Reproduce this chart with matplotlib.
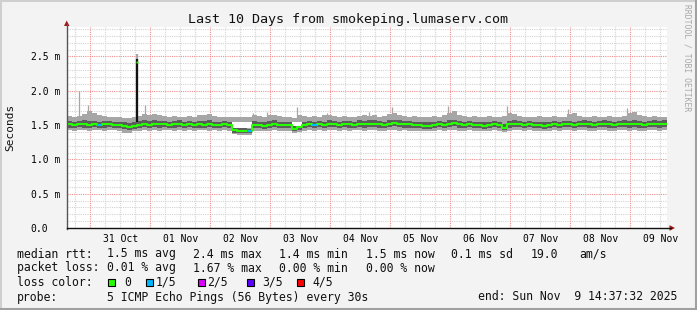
import numpy as np
import matplotlib
matplotlib.use("Agg")
import matplotlib.pyplot as plt
import matplotlib.dates as mdates
from matplotlib.lines import Line2D
from matplotlib.patches import Polygon, Rectangle
from datetime import datetime, timedelta

# ---------------- data ----------------
start = datetime(2025, 10, 30, 14, 37, 32)
end = datetime(2025, 11, 9, 14, 37, 32)
step_hours = 2

median = [1.51,1.50,1.51,1.51,1.50,1.51,1.50,1.51,1.51,1.50,
          1.50,1.48,1.47,1.49,1.50,1.51,1.50,1.52,1.51,1.51,
          1.50,1.51,1.52,1.50,1.51,1.50,1.51,1.50,1.51,1.50,
          1.50,1.51,1.50,1.43,1.42,1.42,1.41,1.50,1.50,1.49,
          1.50,1.51,1.50,1.50,1.50,1.45,1.47,1.50,1.51,1.50,
          1.51,1.50,1.51,1.51,1.50,1.51,1.51,1.50,1.52,1.51,
          1.52,1.52,1.51,1.50,1.52,1.53,1.52,1.51,1.51,1.50,
          1.50,1.49,1.49,1.50,1.51,1.50,1.52,1.53,1.51,1.50,
          1.51,1.50,1.50,1.49,1.50,1.51,1.50,1.46,1.51,1.52,
          1.51,1.50,1.51,1.50,1.50,1.49,1.50,1.51,1.50,1.51,
          1.51,1.50,1.51,1.52,1.51,1.50,1.51,1.52,1.51,1.50,
          1.51,1.52,1.51,1.52,1.51,1.50,1.51,1.52,1.51,1.52]

smoke_hi = [1.63,1.62,1.63,1.66,1.70,1.68,1.64,1.63,1.62,1.62,
            1.62,1.61,1.60,1.62,1.63,1.66,1.65,1.66,1.64,1.63,
            1.62,1.63,1.62,1.62,1.63,1.62,1.64,1.65,1.66,1.63,
            1.62,1.62,1.62,1.62,1.62,1.62,1.62,1.64,1.63,1.62,
            1.64,1.65,1.63,1.62,1.62,1.61,1.64,1.63,1.62,1.63,
            1.62,1.64,1.65,1.63,1.62,1.63,1.62,1.62,1.63,1.64,
            1.63,1.64,1.62,1.63,1.66,1.68,1.64,1.63,1.62,1.63,
            1.62,1.62,1.62,1.63,1.62,1.64,1.68,1.70,1.64,1.63,
            1.62,1.63,1.62,1.62,1.63,1.62,1.62,1.63,1.68,1.66,
            1.63,1.62,1.62,1.62,1.63,1.62,1.62,1.63,1.62,1.62,
            1.66,1.67,1.63,1.62,1.62,1.63,1.62,1.62,1.63,1.62,
            1.62,1.63,1.67,1.69,1.64,1.63,1.62,1.63,1.62,1.62]

smoke_lo = [1.43,1.42,1.43,1.43,1.42,1.43,1.43,1.42,1.43,1.43,
            1.42,1.39,1.38,1.41,1.42,1.43,1.42,1.43,1.42,1.43,
            1.43,1.42,1.43,1.42,1.43,1.42,1.43,1.43,1.42,1.43,
            1.42,1.43,1.42,1.37,1.36,1.36,1.36,1.42,1.42,1.41,
            1.42,1.43,1.42,1.42,1.42,1.39,1.40,1.42,1.43,1.42,
            1.43,1.42,1.43,1.43,1.42,1.43,1.42,1.43,1.43,1.42,
            1.43,1.43,1.42,1.42,1.43,1.43,1.42,1.43,1.42,1.42,
            1.42,1.41,1.41,1.42,1.43,1.42,1.43,1.43,1.42,1.42,
            1.43,1.42,1.42,1.41,1.42,1.43,1.42,1.40,1.42,1.43,
            1.43,1.42,1.43,1.42,1.42,1.41,1.42,1.43,1.42,1.43,
            1.43,1.42,1.43,1.43,1.42,1.42,1.43,1.43,1.42,1.42,
            1.43,1.43,1.42,1.43,1.42,1.42,1.43,1.43,1.42,1.43]

smoke_dark_lo = [1.46,1.46,1.47,1.46,1.46,1.47,1.46,1.46,1.47,1.46,
                 1.46,1.44,1.43,1.45,1.46,1.47,1.46,1.47,1.46,1.47,
                 1.46,1.46,1.47,1.46,1.47,1.46,1.46,1.46,1.47,1.46,
                 1.46,1.47,1.46,1.39,1.39,1.39,1.38,1.46,1.46,1.45,
                 1.46,1.47,1.46,1.46,1.46,1.42,1.43,1.46,1.47,1.46,
                 1.47,1.46,1.47,1.47,1.46,1.47,1.46,1.46,1.47,1.46,
                 1.47,1.47,1.46,1.46,1.47,1.48,1.47,1.46,1.46,1.46,
                 1.46,1.45,1.45,1.46,1.47,1.46,1.47,1.48,1.46,1.46,
                 1.47,1.46,1.46,1.45,1.46,1.47,1.46,1.43,1.46,1.47,
                 1.47,1.46,1.47,1.46,1.46,1.45,1.46,1.47,1.46,1.47,
                 1.47,1.46,1.47,1.47,1.46,1.46,1.47,1.47,1.46,1.46,
                 1.47,1.47,1.46,1.47,1.46,1.46,1.47,1.47,1.46,1.47]

smoke_dark_hi = [1.56,1.55,1.56,1.57,1.56,1.56,1.55,1.56,1.56,1.55,
                 1.55,1.54,1.53,1.55,1.56,1.57,1.56,1.57,1.56,1.56,
                 1.55,1.56,1.57,1.55,1.56,1.55,1.56,1.56,1.57,1.55,
                 1.55,1.56,1.55,1.46,1.46,1.46,1.45,1.56,1.55,1.54,
                 1.56,1.57,1.55,1.55,1.55,1.50,1.51,1.55,1.56,1.55,
                 1.56,1.55,1.57,1.56,1.55,1.56,1.56,1.55,1.57,1.56,
                 1.57,1.57,1.56,1.55,1.57,1.58,1.57,1.56,1.56,1.55,
                 1.55,1.54,1.54,1.55,1.56,1.55,1.57,1.58,1.56,1.55,
                 1.56,1.55,1.55,1.54,1.55,1.56,1.55,1.51,1.56,1.57,
                 1.56,1.55,1.56,1.55,1.55,1.54,1.55,1.56,1.55,1.56,
                 1.56,1.55,1.56,1.57,1.56,1.55,1.56,1.57,1.56,1.55,
                 1.56,1.57,1.56,1.57,1.56,1.55,1.56,1.57,1.56,1.57]

loss = [0] * 120
loss_idx_one = [6, 36, 49]          # samples with 1/5 loss
for _i in loss_idx_one:
    loss[_i] = 1

# white gaps inside the smoke: (first sample, last sample + 1, low, high)
gap_segments = [(33, 37, 1.46, 1.55), (45, 47, 1.48, 1.55)]

# thin isolated outlier spikes: hours after start, top value (ms)
spike_hours = [4.8, 8.4, 31.2, 74.3, 79.9, 92.0, 103.9, 120.8, 129.9, 152.4, 176.0, 200.4, 224.0]
spike_tops = [2.00, 1.79, 1.80, 1.67, 1.69, 1.77, 1.67, 1.69, 1.77, 1.78, 1.78, 1.73, 1.75]

# the big spike
big_hour = 27.9
big_gray_top = 2.54
big_black_top = 2.47
big_median = 2.42
big_base = 1.55

ytick_vals = [0.0, 0.5, 1.0, 1.5, 2.0, 2.5]
ytick_labels = ["0.0", "0.5 m", "1.0 m", "1.5 m", "2.0 m", "2.5 m"]
day_labels = ["31 Oct", "01 Nov", "02 Nov", "03 Nov", "04 Nov",
              "05 Nov", "06 Nov", "07 Nov", "08 Nov", "09 Nov"]

loss_names = ["0", "1/5", "2/5", "3/5", "4/5"]
loss_colors = ["#26ff00", "#00b8ff", "#dd00ff", "#5e00ff", "#ff0000"]

# ---------------- figure ----------------
W, H = 697, 310
fig = plt.figure(figsize=(W / 100, H / 100), dpi=100, facecolor="#f3f3f3")
mono = "DejaVu Sans Mono"

def fx(x):
    return x / W

def fy(y):
    return 1 - y / H

# frame
fig.add_artist(Rectangle((0, 0), 1, 1, transform=fig.transFigure, fill=False,
                         edgecolor="#cfcfcf", lw=2.2))
fig.add_artist(Line2D([fx(1), fx(696)], [fy(309), fy(309)], transform=fig.transFigure,
                      color="#a0a0a0", lw=1.5))
fig.add_artist(Line2D([fx(696), fx(696)], [fy(1), fy(309)], transform=fig.transFigure,
                      color="#a0a0a0", lw=1.5))

PL, PR, PT, PB = 67, 667, 27, 228
ax = fig.add_axes([fx(PL), fy(PB), (PR - PL) / W, (PB - PT) / H])
ax.set_facecolor("white")
for s in ax.spines.values():
    s.set_visible(False)

t0 = mdates.date2num(start)
t1 = mdates.date2num(end)
n = len(median)
edges = np.array([mdates.date2num(start + timedelta(hours=step_hours * i)) for i in range(n + 1)])

def ext(a):
    a = np.asarray(a, dtype=float)
    return np.append(a, a[-1])

ax.set_xlim(t0, t1)
ax.set_ylim(0, 2.93)

# grid
minor_y = np.arange(0.1, 2.95, 0.1)
for v in minor_y:
    if abs(v / 0.5 - round(v / 0.5)) > 1e-6:
        ax.axhline(v, color="#d4d4d4", lw=0.8, ls=(0, (1, 1)), zorder=0)
for v in ytick_vals[1:]:
    ax.axhline(v, color="#f09090", lw=0.8, ls=(0, (1, 1)), zorder=0.5)

six_h = mdates.HourLocator(byhour=[0, 6, 12, 18]).tick_values(start, end)
for v in six_h:
    if t0 < v < t1:
        if abs((mdates.num2date(v).hour)) == 0:
            ax.axvline(v, color="#f09090", lw=0.8, ls=(0, (1, 1)), zorder=0.5)
        else:
            ax.axvline(v, color="#d4d4d4", lw=0.8, ls=(0, (1, 1)), zorder=0)

# smoke
ax.fill_between(edges, ext(smoke_lo), ext(smoke_hi), step="post", color="#a6a6a6", lw=0, zorder=2)
ax.fill_between(edges, ext(smoke_dark_lo), ext(smoke_dark_hi), step="post", color="#5c5c5c", lw=0, zorder=3)
for s0, s1, glo, ghi in gap_segments:
    ax.fill_between(edges[s0:s1 + 1], glo, ghi, step="post", color="white", lw=0, zorder=3.5)

hours_to_num = lambda h: t0 + h / 24.0
ax.vlines([hours_to_num(h) for h in spike_hours], 1.6, spike_tops, color="#a6a6a6", lw=0.9, zorder=2)

bx = hours_to_num(big_hour)
ax.vlines([bx], big_base, big_gray_top, color="#a6a6a6", lw=1.6, zorder=2)
ax.vlines([bx], big_base, big_black_top, color="#111111", lw=1.6, zorder=4)

# median
ax.step(edges, ext(median), where="post", color=loss_colors[0], lw=1.5, zorder=5)
for i, l in enumerate(loss):
    if l > 0:
        ax.plot([edges[i], edges[i + 1]], [median[i], median[i]], color=loss_colors[l],
                lw=1.5, zorder=6, solid_capstyle="butt")
ax.plot([bx], [big_median], marker="s", ms=1.6, color=loss_colors[0], mec="none", zorder=6)

# ticks
ax.set_yticks(ytick_vals)
ax.set_yticklabels(ytick_labels, fontfamily=mono, fontsize=7, ha="left")
ax.tick_params(axis="y", length=0, pad=26.1)
noon = [mdates.date2num(datetime(2025, 10, 31, 12) + timedelta(days=k)) for k in range(len(day_labels))]
ax.set_xticks(noon)
ax.set_xticklabels(day_labels, fontfamily=mono, fontsize=7)
ax.tick_params(axis="x", length=0, pad=4)

# axes lines with arrows
fig.add_artist(Line2D([fx(66.7), fx(66.7)], [fy(228.5), fy(24)], transform=fig.transFigure,
                      color="#555555", lw=1.0))
fig.add_artist(Line2D([fx(66.7), fx(671)], [fy(228), fy(228)], transform=fig.transFigure,
                      color="#111111", lw=1.0))
fig.add_artist(Polygon([(fx(64), fy(26)), (fx(69.5), fy(26)), (fx(66.7), fy(20.5))],
                       closed=True, transform=fig.transFigure, color="#a01818", lw=0))
fig.add_artist(Polygon([(fx(669.5), fy(225.2)), (fx(669.5), fy(230.8)), (fx(675), fy(228))],
                       closed=True, transform=fig.transFigure, color="#a01818", lw=0))

# texts
fig.text(fx(348), fy(19), "Last 10 Days from smokeping.lumaserv.com", ha="center", va="center",
         fontfamily=mono, fontsize=9.6, color="#111111")
fig.text(fx(10), fy(127), "Seconds", rotation=90, ha="center", va="center",
         fontfamily=mono, fontsize=8, color="#111111")
fig.text(fx(687.5), fy(58), "RRDTOOL / TOBI OETIKER", rotation=270, ha="center", va="center",
         fontfamily=mono, fontsize=5.8, color="#a8a8a8")

LF = 8.3
def lt(x, y, s):
    fig.text(fx(x), fy(y), s, ha="left", va="center", fontfamily=mono, fontsize=LF, color="#111111")

row1 = [(16.7, "median rtt:"), (107.3, "1.5 ms avg"), (192.7, "2.4 ms max"), (279.3, "1.4 ms min"),
        (366, "1.5 ms now"), (451, "0.1 ms sd"), (531, "19.0"), (579.3, "am/s")]
row2 = [(16.7, "packet loss:"), (107.3, "0.01 % avg"), (193.3, "1.67 % max"),
        (279.3, "0.00 % min"), (366, "0.00 % now")]
for x, s in row1:
    lt(x, 254, s)
for x, s in row2:
    lt(x, 268, s)
lt(16.7, 282, "loss color:")
sq_x = [108.3, 145.7, 197.7, 247.3, 297.3]
lab_x = [124.3, 155.3, 206.7, 262.3, 312.3]
for sx, lx, name, col in zip(sq_x, lab_x, loss_names, loss_colors):
    fig.add_artist(Rectangle((fx(sx), fy(285.5)), 7 / W, 7 / H, transform=fig.transFigure,
                             facecolor=col, edgecolor="black", lw=0.8))
    lt(lx, 282, name)
lt(16.7, 297, "probe:")
lt(107.3, 297, "5 ICMP Echo Pings (56 Bytes) every 30s")
lt(478.3, 297, "end: Sun Nov  9 14:37:32 2025")

fig.savefig("out.png", dpi=100, facecolor=fig.get_facecolor())
